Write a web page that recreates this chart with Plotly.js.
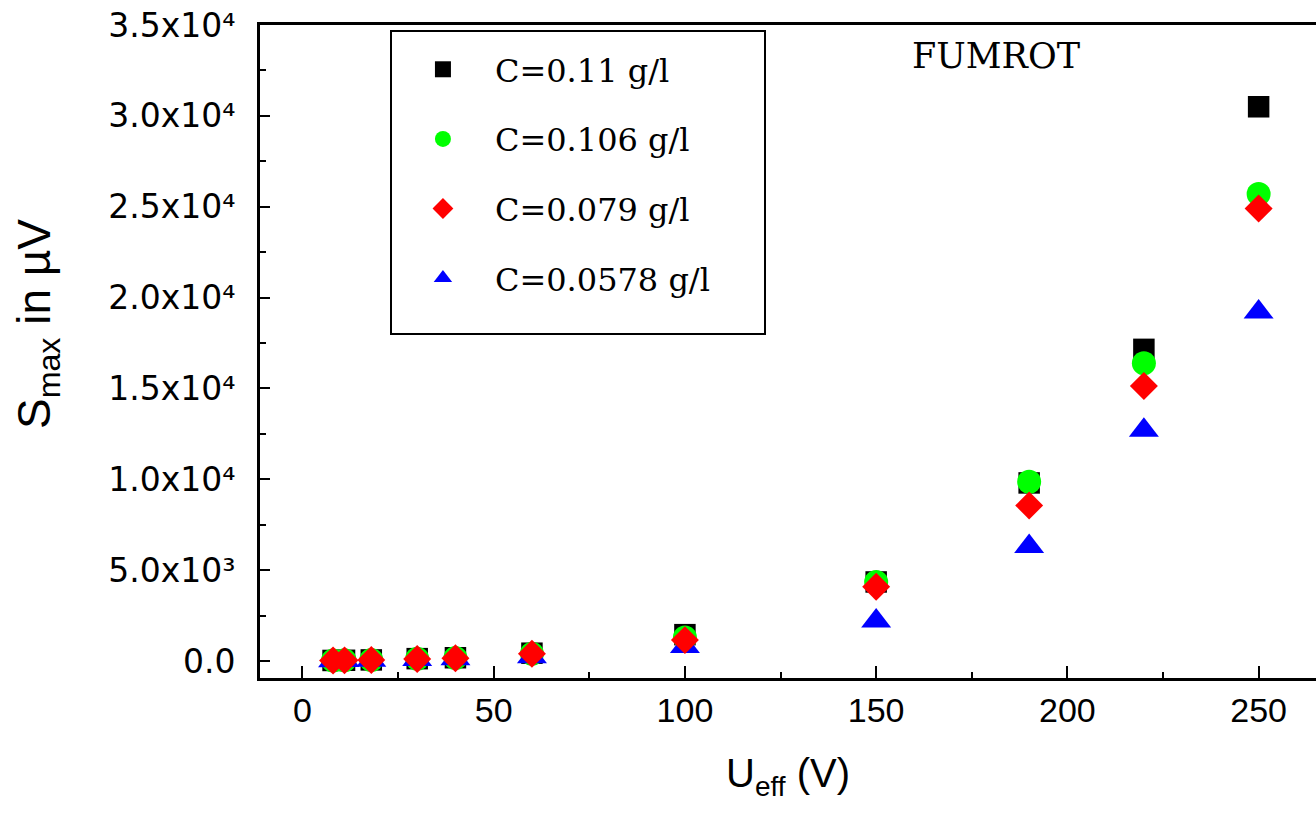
<!DOCTYPE html>
<html>
<head>
<meta charset="utf-8">
<script src="https://cdn.plot.ly/plotly-3.0.1.min.js"></script>
<style>
  html, body { margin: 0; padding: 0; background: #fff; }
  #chart { width: 1316px; height: 819px; }
</style>
</head>
<body>
<div id="chart"></div>
<script>
// ---- data ----
const voltage = [8, 11, 18, 30, 40, 60, 100, 150, 190, 220, 250];
const s_c0110  = [30, 40, 60, 130, 180, 430, 1450, 4350, 9800, 17150, 30500];
const s_c0106  = [30, 40, 60, 120, 170, 400, 1300, 4350, 9870, 16380, 25700];
const s_c0079  = [25, 35, 55, 110, 150, 400, 1150, 4090, 8560, 15130, 24900];
const s_c0578  = [20, 30, 45, 80, 120, 230, 800, 2200, 6300, 12700, 19200];
const seriesNames = ["C=0.11 g/l", "C=0.106 g/l", "C=0.079 g/l", "C=0.0578 g/l"];
const yTickVals = [0, 5000, 10000, 15000, 20000, 25000, 30000, 35000];
const yTickText = ["0.0", "5.0x10\u00b3", "1.0x10\u2074", "1.5x10\u2074",
                   "2.0x10\u2074", "2.5x10\u2074", "3.0x10\u2074", "3.5x10\u2074"];
const xTickVals = [0, 50, 100, 150, 200, 250];

const serif = "DejaVu Serif, Liberation Serif, serif";
const sans = "Liberation Sans, Arial, sans-serif";

function mk(y, name, symbol, color, size, rank, grp) {
  return {
    x: voltage, y: y, name: name, type: "scatter", mode: "markers",
    marker: {symbol: symbol, color: color, size: size, line: {width: 0}},
    legendrank: rank, legendgroup: grp, cliponaxis: false
  };
}

const traces = [
  mk(s_c0110, seriesNames[0], "square", "#000000", 21.5, 1, "a"),
  mk(s_c0106, seriesNames[1], "circle", "#00ff00", 24, 2, "b"),
  mk(s_c0578, seriesNames[3], "triangle-up", "#0000ff", 26, 4, "d"),
  mk(s_c0079, seriesNames[2], "diamond", "#ff0000", 21.5, 3, "c")
];

const layout = {
  width: 1316, height: 819,
  margin: {l: 260, r: 0, t: 25, b: 141},
  paper_bgcolor: "#fff", plot_bgcolor: "#fff",
  showlegend: true,
  legend: {
    x: 0.124, y: 0.974, xanchor: "left", yanchor: "top",
    bgcolor: "rgba(0,0,0,0)", borderwidth: 0,
    font: {family: serif, size: 32, color: "#000"}, itemwidth: 94, tracegroupgap: 25,
    traceorder: "grouped", itemsizing: "trace"
  },
  xaxis: {
    range: [-11.1, 265], tickvals: xTickVals, ticktext: xTickVals.map(String),
    ticks: "inside", ticklen: 12, tickwidth: 2, tickcolor: "#000",
    minor: {dtick: 25, ticks: "inside", ticklen: 6, tickwidth: 2, tickcolor: "#000"},
    showline: true, linewidth: 3, linecolor: "#000", mirror: true,
    showgrid: false, zeroline: false,
    tickfont: {family: sans, size: 34, color: "#000"}, ticklabelstandoff: 0,
    title: {text: "U<sub>eff</sub> (V)", font: {family: sans, size: 40, color: "#000"}, standoff: 32}
  },
  yaxis: {
    range: [-935, 35000], tickvals: yTickVals, ticktext: yTickText,
    ticks: "inside", ticklen: 10, tickwidth: 2, tickcolor: "#000",
    minor: {dtick: 2500, ticks: "inside", ticklen: 6, tickwidth: 2, tickcolor: "#000"},
    showline: true, linewidth: 3, linecolor: "#000",
    showgrid: false, zeroline: false,
    tickfont: {family: "DejaVu Sans, sans-serif", size: 33, color: "#000"},
    ticklabelstandoff: 15
  },
  shapes: [{
    type: "rect", xref: "paper", yref: "paper",
    x0: (391 - 260) / 1056, x1: (765 - 260) / 1056,
    y0: (678 - 334) / 653, y1: (678 - 31) / 653,
    line: {color: "#000", width: 2}, fillcolor: "rgba(0,0,0,0)", layer: "below"
  }],
  annotations: [
    {text: "FUMROT", xref: "paper", yref: "paper", x: 0.697, y: 0.9525,
     xanchor: "center", yanchor: "middle", showarrow: false,
     font: {family: serif, size: 35, color: "#000"}},
    {text: "S<sub>max</sub> in µV", xref: "paper", yref: "paper", x: -0.2112, y: 0.542,
     xanchor: "center", yanchor: "middle", showarrow: false, textangle: -90,
     font: {family: sans, size: 46, color: "#000"}}
  ]
};

Plotly.newPlot("chart", traces, layout, {displayModeBar: false, staticPlot: true});
</script>
</body>
</html>
